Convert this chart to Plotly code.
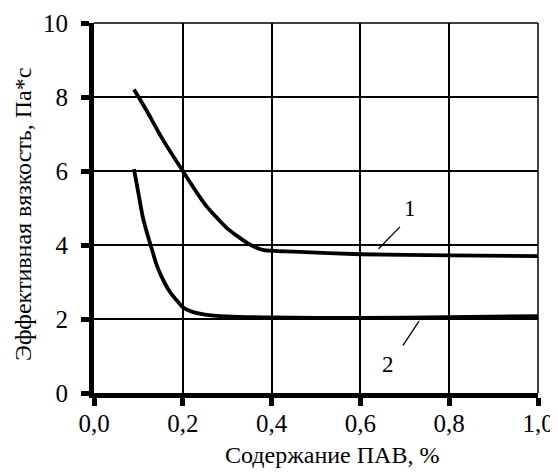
import plotly.graph_objects as go

# Curve 1
x1 = [0.09, 0.12, 0.15, 0.20, 0.25, 0.30, 0.35, 0.38, 0.45, 0.60, 0.80, 1.00]
y1 = [8.20, 7.60, 6.95, 6.00, 5.10, 4.45, 4.02, 3.87, 3.82, 3.75, 3.72, 3.70]
# Curve 2
x2 = [0.09, 0.10, 0.11, 0.12, 0.13, 0.14, 0.15, 0.17, 0.19, 0.20, 0.22, 0.25, 0.30, 0.40, 0.60, 0.80, 1.00]
y2 = [6.05, 5.40, 4.75, 4.30, 3.90, 3.50, 3.20, 2.75, 2.45, 2.32, 2.20, 2.12, 2.07, 2.04, 2.03, 2.05, 2.08]

curve_labels = ["1", "2"]
label_pos = [(0.711, 5.0), (0.662, 0.78)]
leader_lines = [((0.689, 4.49), (0.641, 3.90)), ((0.732, 1.94), (0.696, 1.29))]

x_ticks = [0.0, 0.2, 0.4, 0.6, 0.8, 1.0]
y_ticks = [0, 2, 4, 6, 8, 10]
x_title = "Содержание ПАВ, %"
y_title = "Эффективная вязкость, Па*с"

FONT = "Liberation Serif"

fig = go.Figure()
for xs, ys in [(x1, y1), (x2, y2)]:
    fig.add_trace(go.Scatter(x=xs, y=ys, mode="lines",
                             line=dict(color="black", width=3.8, shape="spline", smoothing=0.6),
                             showlegend=False, hoverinfo="skip"))

for (p0, p1) in leader_lines:
    fig.add_trace(go.Scatter(x=[p0[0], p1[0]], y=[p0[1], p1[1]], mode="lines",
                             line=dict(color="black", width=1.3),
                             showlegend=False, hoverinfo="skip"))

for lab, (lx, ly) in zip(curve_labels, label_pos):
    fig.add_annotation(x=lx, y=ly, text=lab, showarrow=False,
                       font=dict(family=FONT, size=23, color="black"))

# axis titles as paper annotations
fig.add_annotation(xref="paper", yref="paper", x=0.535, y=-0.168, text=x_title,
                   showarrow=False, xanchor="center", yanchor="middle",
                   font=dict(family=FONT, size=24, color="black"))
fig.add_annotation(xref="paper", yref="paper", x=-0.16, y=0.484, text=y_title,
                   showarrow=False, xanchor="center", yanchor="middle", textangle=-90,
                   font=dict(family=FONT, size=24, color="black"))

# top and right border (thin, like grid lines)
fig.add_shape(type="line", xref="paper", yref="paper", x0=0, x1=1, y0=1, y1=1,
              line=dict(color="black", width=1.5))
fig.add_shape(type="line", xref="paper", yref="paper", x0=1, x1=1, y0=0, y1=1,
              line=dict(color="black", width=1.5))

# page body has an 8px default margin; figure is sized to fill the rest of the window
fig.update_layout(
    width=550, height=464,
    margin=dict(l=86, r=20, t=15, b=79),
    plot_bgcolor="white", paper_bgcolor="white",
    separators=",.",
    font=dict(family=FONT, size=24, color="black"),
)
fig.update_xaxes(
    range=[0, 1.0], tickvals=x_ticks, tickformat=".1f",
    tickfont=dict(family=FONT, size=25, color="black"),
    automargin=False, ticklabelstandoff=-4,
    showgrid=True, gridcolor="black", gridwidth=1.5,
    showline=True, linecolor="black", linewidth=5,
    ticks="outside", ticklen=8, tickwidth=5, tickcolor="black",
    zeroline=False,
)
fig.update_yaxes(
    range=[0, 10], tickvals=y_ticks,
    tickfont=dict(family=FONT, size=25, color="black"),
    automargin=False, ticklabelstandoff=8,
    showgrid=True, gridcolor="black", gridwidth=1.5,
    showline=True, linecolor="black", linewidth=5,
    ticks="outside", ticklen=8, tickwidth=5, tickcolor="black",
    zeroline=False,
)

fig.write_html("out.html")
